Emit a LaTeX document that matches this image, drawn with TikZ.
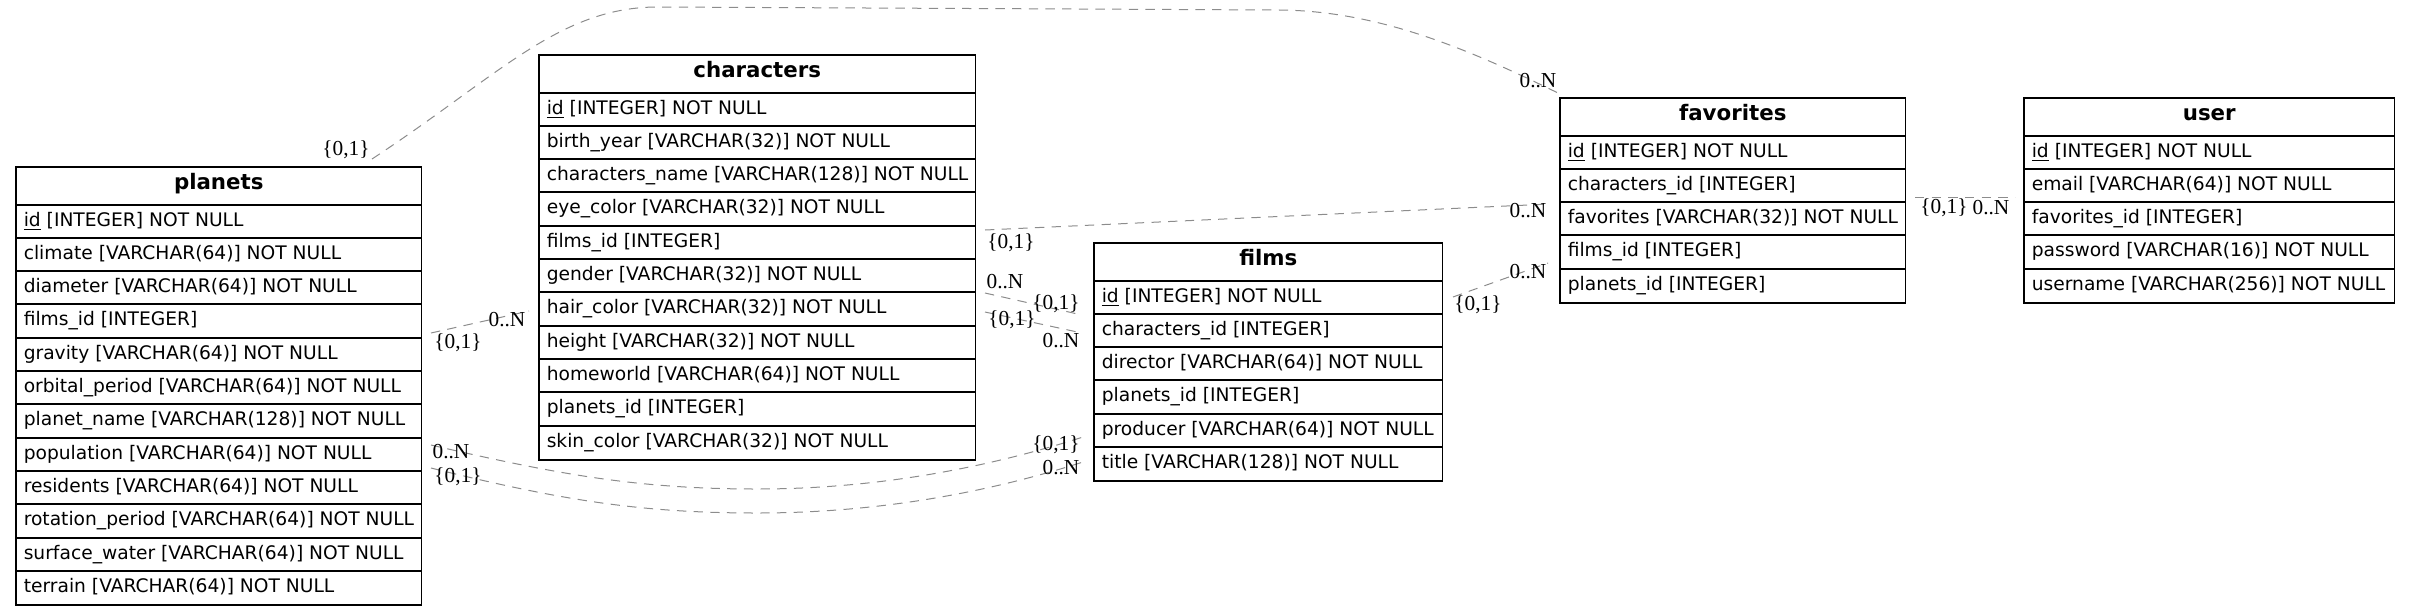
\documentclass[tikz,border=0pt]{standalone}
\usepackage{fontspec}
\setmainfont{DejaVu Sans}
\newfontfamily\lblfont{Liberation Serif}
\definecolor{edgegray}{gray}{0.55}
\newcommand\ertab[7]{% name, left, top, width, textwidth, title, rows
  \node[tabhead, minimum width=#4, anchor=north west] (#1) at (#2,#3) {#6};
  \foreach \r [count=\i] in {#7} {
    \pgfmathsetmacro\rowtop{round(#3+37.5+\i*33.333-33.333)}
    \node[tabrow, minimum width=#4, anchor=north west] (#1-\i) at (#2,\rowtop) {\makebox[#5][l]{\r}};
    \draw[tabline] (#1-\i.north west) -- (#1-\i.north east);
    \coordinate (#1-bot) at (#1-\i.south east);
  }%
  \draw[tabline] (#1.north west) rectangle (#1-bot);
}
\begin{document}
\begin{tikzpicture}[x=0.75pt,y=-0.75pt,
  tabline/.style={draw=black, line width=1.1pt},
  tabhead/.style={rectangle, inner xsep=0pt, inner ysep=0pt,
    minimum height=28.125pt, text height=8.7pt, text depth=3.4pt,
    font=\fontsize{16}{19}\selectfont\bfseries},
  tabrow/.style={rectangle, inner xsep=5.625pt, inner ysep=0pt,
    minimum height=25pt, text height=10.25pt, text depth=3pt,
    font=\fontsize{14}{17}\selectfont},
  rel/.style={draw=edgegray, line width=0.75pt, dash pattern=on 7pt off 5.5pt},
  card/.style={font=\lblfont\fontsize{16}{19}\selectfont, inner sep=0pt}]
\useasboundingbox (0,0) rectangle (2409,615);

% tables
\ertab{planets}{16}{167}{303.75pt}{292.5pt}{planets}{%
\underline{id} [INTEGER] NOT NULL,%
climate [VARCHAR(64)] NOT NULL,%
diameter [VARCHAR(64)] NOT NULL,%
films\_id [INTEGER],%
gravity [VARCHAR(64)] NOT NULL,%
orbital\_period [VARCHAR(64)] NOT NULL,%
planet\_name [VARCHAR(128)] NOT NULL,%
population [VARCHAR(64)] NOT NULL,%
residents [VARCHAR(64)] NOT NULL,%
rotation\_period [VARCHAR(64)] NOT NULL,%
surface\_water [VARCHAR(64)] NOT NULL,%
terrain [VARCHAR(64)] NOT NULL}

\ertab{characters}{539}{55}{327pt}{315.75pt}{characters}{%
\underline{id} [INTEGER] NOT NULL,%
birth\_year [VARCHAR(32)] NOT NULL,%
characters\_name [VARCHAR(128)] NOT NULL,%
eye\_color [VARCHAR(32)] NOT NULL,%
films\_id [INTEGER],%
gender [VARCHAR(32)] NOT NULL,%
hair\_color [VARCHAR(32)] NOT NULL,%
height [VARCHAR(32)] NOT NULL,%
homeworld [VARCHAR(64)] NOT NULL,%
planets\_id [INTEGER],%
skin\_color [VARCHAR(32)] NOT NULL}

\ertab{films}{1094}{243}{261pt}{249.75pt}{films}{%
\underline{id} [INTEGER] NOT NULL,%
characters\_id [INTEGER],%
director [VARCHAR(64)] NOT NULL,%
planets\_id [INTEGER],%
producer [VARCHAR(64)] NOT NULL,%
title [VARCHAR(128)] NOT NULL}

\ertab{favorites}{1560}{98}{258.75pt}{247.5pt}{favorites}{%
\underline{id} [INTEGER] NOT NULL,%
characters\_id [INTEGER],%
favorites [VARCHAR(32)] NOT NULL,%
films\_id [INTEGER],%
planets\_id [INTEGER]}

\ertab{user}{2024}{98}{277.5pt}{266.25pt}{user}{%
\underline{id} [INTEGER] NOT NULL,%
email [VARCHAR(64)] NOT NULL,%
favorites\_id [INTEGER],%
password [VARCHAR(16)] NOT NULL,%
username [VARCHAR(256)] NOT NULL}

% connector end points
\coordinate (c1a) at (372,159);  \coordinate (c1b) at (1558,93);
\coordinate (c2a) at (431,333);  \coordinate (c2b) at (529,311);
\coordinate (c3a) at (985,230);  \coordinate (c3b) at (1550,204);
\coordinate (c4a) at (985,293);  \coordinate (c4b) at (1082,315);
\coordinate (c4c) at (985,312);  \coordinate (c4d) at (1082,333);
\coordinate (c5a) at (431,445);  \coordinate (c5b) at (1083,437);
\coordinate (c5c) at (431,468);  \coordinate (c5d) at (1083,462);
\coordinate (c6a) at (1453,297); \coordinate (c6b) at (1548,263);
\coordinate (c7a) at (1915,197); \coordinate (c7b) at (2015,197);

% connectors
\draw[rel] (c1a) .. controls (500,75) and (560,6) .. (660,7) -- (1280,10)
  .. controls (1380,11) and (1470,50) .. (c1b);
\draw[rel] (c2a) -- (c2b);
\draw[rel] (c3a) -- (c3b);
\draw[rel] (c4a) -- (c4b);
\draw[rel] (c4c) -- (c4d);
\draw[rel] (c5a) .. controls (560,475) and (640,489) .. (757,489)
  .. controls (870,489) and (980,470) .. (c5b);
\draw[rel] (c5c) .. controls (560,500) and (640,513) .. (757,513)
  .. controls (870,513) and (980,495) .. (c5d);
\draw[rel] (c6a) -- (c6b);
\draw[rel] (c7a) -- (c7b);

% cardinality labels
\node[card] (l1a) at (346,150) {\{0,1\}};
\node[card] (l1b) at (1538,81) {0..N};
\node[card] (l2a) at (458,343) {\{0,1\}};
\node[card] (l2b) at (507,320) {0..N};
\node[card] (l3a) at (1011,243) {\{0,1\}};
\node[card] (l3b) at (1528,211) {0..N};
\node[card] (l4a) at (1005,282) {0..N};
\node[card] (l4b) at (1056,304) {\{0,1\}};
\node[card] (l4c) at (1012,320) {\{0,1\}};
\node[card] (l4d) at (1061,341) {0..N};
\node[card] (l5a) at (451,452) {0..N};
\node[card] (l5b) at (1056,445) {\{0,1\}};
\node[card] (l5c) at (458,477) {\{0,1\}};
\node[card] (l5d) at (1061,468) {0..N};
\node[card] (l6a) at (1478,305) {\{0,1\}};
\node[card] (l6b) at (1528,272) {0..N};
\node[card] (l7a) at (1944,208) {\{0,1\}};
\node[card] (l7b) at (1991,208) {0..N};
\end{tikzpicture}
\end{document}
